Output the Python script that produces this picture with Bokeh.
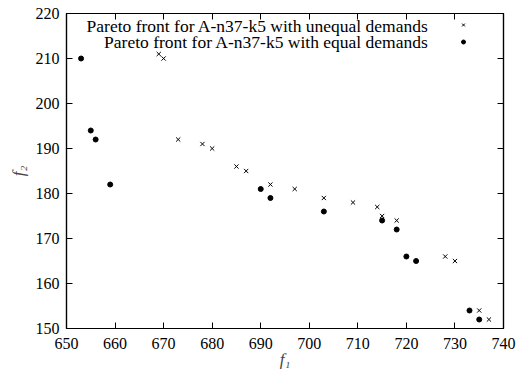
from bokeh.plotting import figure
from bokeh.models import (LinearAxis, Range1d, FixedTicker, Label, Legend, LegendItem)
from bokeh.embed import file_html
from bokeh.resources import INLINE

# Data
unequal_f1 = [669, 670, 673, 678, 680, 685, 687, 692, 697, 703, 709, 714, 715, 718, 728, 730, 735, 737]
unequal_f2 = [211, 210, 192, 191, 190, 186, 185, 182, 181, 179, 178, 177, 175, 174, 166, 165, 154, 152]
equal_f1 = [653, 655, 656, 659, 690, 692, 703, 715, 718, 720, 722, 733, 735]
equal_f2 = [210, 194, 192, 182, 181, 179, 176, 174, 172, 166, 165, 154, 152]
x_ticks = [650, 660, 670, 680, 690, 700, 710, 720, 730, 740]
y_ticks = [150, 160, 170, 180, 190, 200, 210, 220]
label_unequal = "Pareto front for A-n37-k5 with unequal demands"
label_equal = "Pareto front for A-n37-k5 with equal demands"

FONT = "Liberation Serif"

x_axis = LinearAxis(ticker=FixedTicker(ticks=x_ticks), axis_label="f₁",
                    major_label_text_font=FONT, major_label_text_font_size="16px",
                    major_label_text_color="black", major_label_standoff=9,
                    axis_label_text_font=FONT, axis_label_text_font_size="17px",
                    axis_label_text_font_style="italic", axis_label_standoff=-2,
                    major_tick_in=6, major_tick_out=0, minor_tick_in=0, minor_tick_out=0,
                    axis_line_width=1.2)
y_axis = LinearAxis(ticker=FixedTicker(ticks=y_ticks), axis_label="f₂",
                    major_label_text_font=FONT, major_label_text_font_size="16px",
                    major_label_text_color="black", major_label_standoff=7,
                    axis_label_text_font=FONT, axis_label_text_font_size="17px",
                    axis_label_text_font_style="italic", axis_label_standoff=5,
                    major_tick_in=6, major_tick_out=0, minor_tick_in=0, minor_tick_out=0,
                    axis_line_width=1.2)

p = figure(width=517, height=371, output_backend="svg", toolbar_location=None,
           x_range=Range1d(650, 740), y_range=Range1d(150, 220),
           x_axis_location=None, y_axis_location=None,
           frame_width=437, frame_height=315,
           min_border_left=66, min_border_right=14, min_border_top=13, min_border_bottom=43)
p.grid.visible = False
p.outline_line_color = "black"
p.outline_line_width = 1.2
p.background_fill_color = "white"
p.border_fill_color = "white"
p.add_layout(x_axis, "below")
p.add_layout(y_axis, "left")

top = LinearAxis(ticker=FixedTicker(ticks=x_ticks),
                 major_label_overrides={t: "" for t in x_ticks},
                 major_tick_in=6, major_tick_out=0, minor_tick_in=0, minor_tick_out=0,
                 major_label_standoff=0, axis_line_width=1.2)
right = LinearAxis(ticker=FixedTicker(ticks=y_ticks),
                   major_label_overrides={t: "" for t in y_ticks},
                   major_tick_in=6, major_tick_out=0, minor_tick_in=0, minor_tick_out=0,
                   major_label_standoff=0, axis_line_width=1.2)
p.add_layout(top, "above")
p.add_layout(right, "right")

r_uneq = p.scatter(unequal_f1, unequal_f2, marker="x", size=6, line_color="black", line_width=1)
r_eq = p.scatter(equal_f1, equal_f2, marker="circle", size=5, fill_color="black", line_color="black")

# legend text (right-aligned, glyphs to the right)
p.add_layout(Label(x=724.6, y=217.3, text=label_unequal, text_align="right", text_baseline="middle",
                   text_font=FONT, text_font_size="17.5px", text_color="black"))
p.add_layout(Label(x=724.6, y=213.6, text=label_equal, text_align="right", text_baseline="middle",
                   text_font=FONT, text_font_size="17.5px", text_color="black"))

legend = Legend(items=[LegendItem(label="", renderers=[r_uneq]),
                       LegendItem(label="", renderers=[r_eq])],
                location=(392, 278), padding=0, margin=0, spacing=0,
                glyph_width=10, glyph_height=17, label_height=17, label_width=0,
                label_standoff=0,
                border_line_color=None, background_fill_alpha=0)
p.add_layout(legend)

open("out.html", "w").write(file_html(p, INLINE))
